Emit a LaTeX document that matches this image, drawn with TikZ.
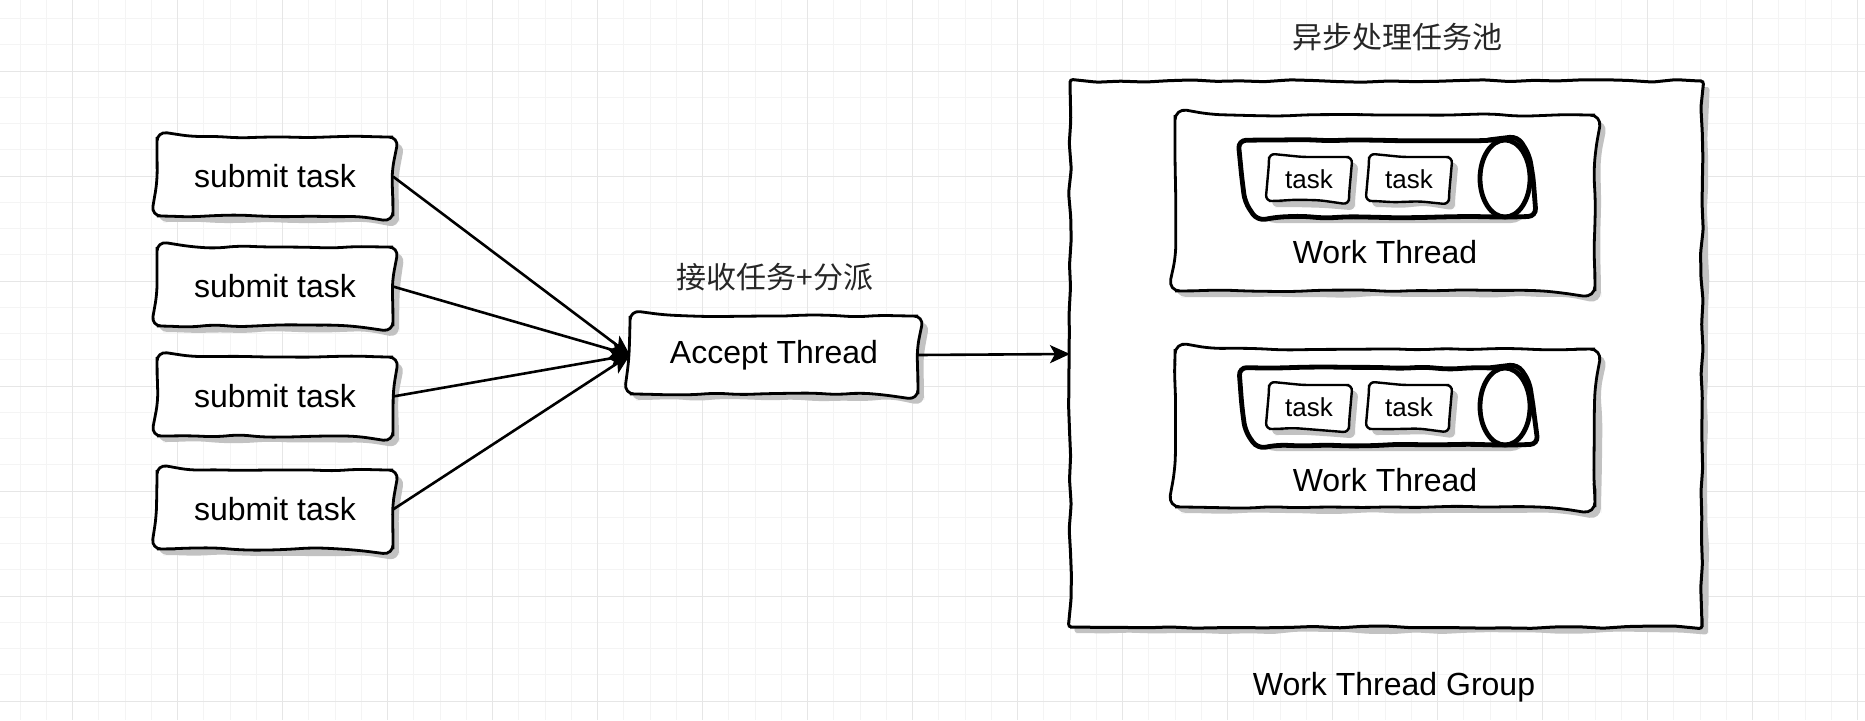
\documentclass[tikz,border=0pt]{standalone}
\usepackage{fontspec}
\setmainfont{Liberation Sans}
\newfontfamily\cjk{Noto Sans CJK SC}
\usetikzlibrary{decorations.pathmorphing,arrows.meta}
\definecolor{gridminor}{HTML}{F4F4F4}
\definecolor{gridmajor}{HTML}{E6E6E6}
\definecolor{shadowgray}{HTML}{C2C2C2}
\pgfdeclarelayer{bg}
\pgfsetlayers{bg,main}
\tikzset{
  sketchdeco/.style={decorate, decoration={random steps, segment length=12pt, amplitude=0.7pt}},
  holder/.style={inner sep=0pt, outer sep=0pt, font=\fontsize{16}{19}\selectfont},
  taskholder/.style={inner sep=0pt, outer sep=0pt, minimum width=40pt, minimum height=22pt,
              font=\fontsize{13}{15}\selectfont},
  cyl/.style={draw, fill=white, line width=2.4pt, decorate,
              decoration={random steps, segment length=12pt, amplitude=0.6pt}, rounded corners=4pt},
  cylshadow/.style={fill=shadowgray, transform canvas={shift={(3pt,-3pt)}}},
  cjklabel/.style={font=\cjk\fontsize{15}{18}\selectfont, text=black!85, inner sep=0pt},
  plainlabel/.style={font=\fontsize{16}{19}\selectfont, inner sep=0pt},
  conn/.style={line width=1.3pt, -{Stealth[length=10pt,width=9pt,inset=2.5pt]}},
}
% #1 node name, #2 line width, #3 corner radius
\newcommand\sketchbox[3]{%
  \begin{pgfonlayer}{bg}
  \path[fill=shadowgray, sketchdeco, rounded corners=#3, transform canvas={shift={(3pt,-3pt)}}]
    (#1.north) -- (#1.north east) -- (#1.south east) -- (#1.south west) -- (#1.north west) -- cycle;
  \path[draw, fill=white, line width=#2, sketchdeco, rounded corners=#3]
    (#1.north) -- (#1.north east) -- (#1.south east) -- (#1.south west) -- (#1.north west) -- cycle;
  \end{pgfonlayer}}
% cylinder: #1 centre y
\newcommand\sketchcyl[1]{%
  \begin{pgfonlayer}{bg}
  \path[cylshadow] (1505,{#1-38.5}) -- (1270,{#1-38.5})
     arc[start angle=90, end angle=270, x radius=12.5pt, y radius=19.25pt]
     -- (1505,{#1+38.5}) arc[start angle=-90, end angle=90, x radius=12.5pt, y radius=19.25pt] -- cycle;
  \path[cyl] (1505,{#1-38.5}) -- (1270,{#1-38.5})
     arc[start angle=90, end angle=270, x radius=12.5pt, y radius=19.25pt]
     -- (1505,{#1+38.5}) arc[start angle=-90, end angle=90, x radius=12.5pt, y radius=19.25pt] -- cycle;
  \draw[line width=2.4pt] (1505,#1) ellipse[x radius=12.5pt, y radius=19.25pt];
  \end{pgfonlayer}}
\begin{document}
\begin{tikzpicture}[x=0.5pt,y=-0.5pt]
\useasboundingbox (0,0) rectangle (1865,720);
\begin{pgfonlayer}{bg}
\fill[white] (0,0) rectangle (1865,720);
\foreach \i in {0,...,70} { \draw[gridminor, line width=0.5pt] ({20+\i*26.25},0) -- ({20+\i*26.25},720); }
\foreach \j in {0,...,27} { \draw[gridminor, line width=0.5pt] (0,{18.5+\j*26.25}) -- (1865,{18.5+\j*26.25}); }
\foreach \i in {0,...,17} { \draw[gridmajor, line width=0.5pt] ({72.5+\i*105},0) -- ({72.5+\i*105},720); }
\foreach \j in {0,...,6} { \draw[gridmajor, line width=0.5pt] (0,{71+\j*105}) -- (1865,{71+\j*105}); }
\end{pgfonlayer}
\pgfmathsetseed{11}
% submit boxes
\node[holder, minimum width=118pt, minimum height=39.5pt] (s1) at (275,176.5) {submit task};
\node[holder, minimum width=118pt, minimum height=39.5pt] (s2) at (275,286.5) {submit task};
\node[holder, minimum width=118pt, minimum height=39.5pt] (s3) at (275,396.5) {submit task};
\node[holder, minimum width=118pt, minimum height=39.5pt] (s4) at (275,509.5) {submit task};
\sketchbox{s1}{1.4pt}{5pt}
\sketchbox{s2}{1.4pt}{5pt}
\sketchbox{s3}{1.4pt}{5pt}
\sketchbox{s4}{1.4pt}{5pt}
% accept thread
\node[holder, minimum width=144pt, minimum height=39pt] (acc) at (774,355) {Accept Thread};
\sketchbox{acc}{1.4pt}{5pt}
\node[cjklabel] (accl) at (775,277) {接收任务+分派};
% group
\node[holder, minimum width=316pt, minimum height=273pt] (grp) at (1386,354) {};
\sketchbox{grp}{1.5pt}{1.5pt}
\node[cjklabel] (title) at (1397,37) {异步处理任务池};
\node[plainlabel] (grpl) at (1394,687) {Work Thread Group};
% work thread 1
\node[holder, minimum width=210pt, minimum height=88pt] (wt1) at (1385,203) {};
\sketchbox{wt1}{1.4pt}{6pt}
\node[plainlabel] (wt1l) at (1385,252) {Work Thread};
\sketchcyl{178.5}
\node[taskholder] (t11) at (1309,179) {task};
\node[taskholder] (t12) at (1409,179) {task};
\sketchbox{t11}{1.2pt}{3pt}
\sketchbox{t12}{1.2pt}{3pt}
% work thread 2
\node[holder, minimum width=210pt, minimum height=79pt] (wt2) at (1385,428) {};
\sketchbox{wt2}{1.4pt}{6pt}
\node[plainlabel] (wt2l) at (1385,480) {Work Thread};
\sketchcyl{406.5}
\node[taskholder] (t21) at (1309,407) {task};
\node[taskholder] (t22) at (1409,407) {task};
\sketchbox{t21}{1.2pt}{3pt}
\sketchbox{t22}{1.2pt}{3pt}
% connectors
\draw[conn] (s1.east) -- (acc.west);
\draw[conn] (s2.east) -- (acc.west);
\draw[conn] (s3.east) -- (acc.west);
\draw[conn] (s4.east) -- (acc.west);
\draw[conn] (acc.east) -- (grp.west);
\end{tikzpicture}
\end{document}
